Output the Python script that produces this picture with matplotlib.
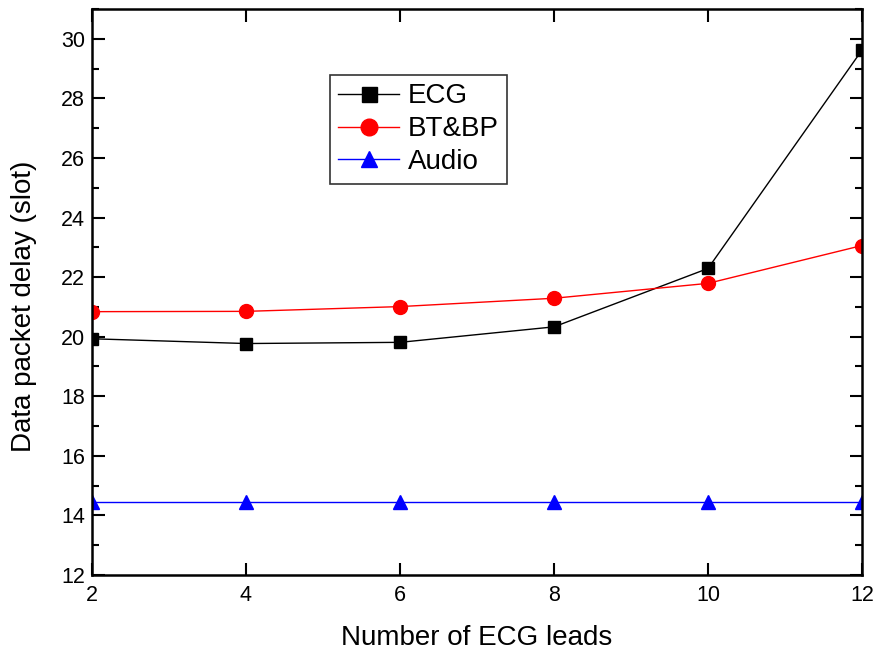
import matplotlib
matplotlib.use("Agg")
import matplotlib.pyplot as plt
from matplotlib.ticker import MultipleLocator

plt.rcParams['font.family'] = ['Liberation Sans', 'DejaVu Sans']

leads = [2, 4, 6, 8, 10, 12]
ecg = [19.93, 19.77, 19.81, 20.33, 22.29, 29.62]
btbp = [20.84, 20.85, 21.01, 21.29, 21.79, 23.06]
audio = [14.45, 14.45, 14.45, 14.45, 14.45, 14.45]

fig = plt.figure(figsize=(8.77, 6.56), dpi=100)
ax = fig.add_axes([92/877, 1-575/656, (862-92)/877, (575-9)/656])

ax.plot(leads, ecg, color='black', lw=1, marker='s', ms=9, label='ECG')
ax.plot(leads, btbp, color='red', lw=1, marker='o', ms=10, label='BT&BP')
ax.plot(leads, audio, color='blue', lw=1, marker='^', ms=10, label='Audio')

ax.set_xlim(2, 12)
ax.set_ylim(12, 31)
ax.xaxis.set_major_locator(MultipleLocator(2))
ax.yaxis.set_major_locator(MultipleLocator(2))
ax.yaxis.set_minor_locator(MultipleLocator(1))
ax.tick_params(axis='both', which='major', direction='in', length=9, width=1.5, labelsize=15.5)
ax.tick_params(axis='y', which='minor', direction='in', length=5, width=1.5)
ax.tick_params(axis='y', which='both', right=True)
ax.tick_params(axis='x', which='major', top=True)
ax.tick_params(axis='x', pad=7)
ax.tick_params(axis='y', pad=5)
for s in ax.spines.values():
    s.set_linewidth(1.8)

ax.set_xlabel('Number of ECG leads', fontsize=20, labelpad=14)
ax.set_ylabel('Data packet delay (slot)', fontsize=20)
ax.yaxis.set_label_coords(-0.072, 0.475)

leg = ax.legend(loc='upper left', bbox_to_anchor=((330-92)/770, 1-(75-9)/566),
                fontsize=20, frameon=True, fancybox=False, edgecolor='black',
                handlelength=2.2, borderpad=0.3, labelspacing=0.25, handletextpad=0.3,
                borderaxespad=0, markerscale=1.2)
leg.get_frame().set_linewidth(1.2)

fig.savefig('out.png', dpi=100)
